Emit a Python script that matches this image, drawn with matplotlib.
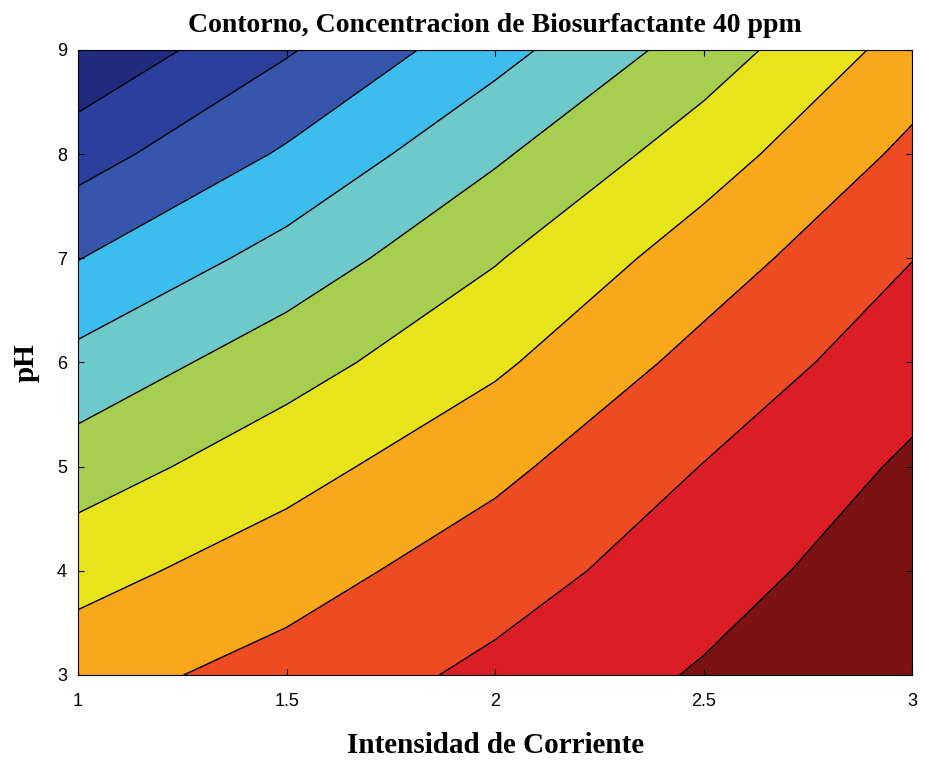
import numpy as np
import matplotlib
matplotlib.use("Agg")
import matplotlib.pyplot as plt
from matplotlib.colors import ListedColormap

# estilo tipo MATLAB
plt.rcParams.update(
    {
        "font.family": "Liberation Sans",
        "axes.linewidth": 0.8,
        "xtick.direction": "in",
        "ytick.direction": "in",
        "xtick.top": True,
        "ytick.right": True,
        "xtick.major.size": 4,
        "ytick.major.size": 4,
    }
)

# Intensidad de corriente (columnas) y pH (filas)
corriente = np.array([1.0, 1.5, 2.0, 2.5, 3.0])
ph = np.array([3, 4, 5, 6, 7, 8, 9])

# respuesta por nivel de contorno (fila = pH, columna = corriente)
z_ph3 = [7.62, 8.37, 9.23, 10.10, 10.95]
z_ph4 = [6.63, 7.56, 8.55, 9.57, 10.60]
z_ph5 = [5.49, 6.62, 7.76, 9.03, 10.16]
z_ph6 = [4.29, 5.58, 6.83, 8.32, 9.59]
z_ph7 = [2.97, 4.38, 5.93, 7.50, 8.98]
z_ph8 = [1.57, 3.13, 4.85, 6.54, 8.23]
z_ph9 = [0.14, 1.90, 3.65, 5.48, 7.42]

niveles = np.arange(0, 12)
colores = [
    "#222a80",
    "#2c3f9c",
    "#3655ad",
    "#3dbdee",
    "#6ec9cb",
    "#a6cf50",
    "#e8e41c",
    "#f8a81b",
    "#ee4b22",
    "#db1d25",
    "#7b1315",
]

if __name__ == "__main__":
    Z = np.array([z_ph3, z_ph4, z_ph5, z_ph6, z_ph7, z_ph8, z_ph9])
    X, Y = np.meshgrid(corriente, ph)

    fig = plt.figure(figsize=(9.25, 7.67), dpi=100)
    ax = fig.add_axes([0.0843, 0.120, 0.902, 0.815])

    cmap = ListedColormap(colores)
    ax.contourf(X, Y, Z, levels=niveles, cmap=cmap)
    ax.contour(X, Y, Z, levels=niveles[1:-1], colors="black", linewidths=1.0)

    ax.set_xlim(1, 3)
    ax.set_ylim(3, 9)
    ax.set_xticks([1, 1.5, 2, 2.5, 3])
    ax.set_xticklabels(["1", "1.5", "2", "2.5", "3"])
    ax.set_yticks(ph)
    ax.tick_params(axis="both", labelsize=13)
    ax.tick_params(axis="x", pad=13)
    ax.tick_params(axis="y", pad=8)

    ax.set_title(
        "Contorno, Concentracion de Biosurfactante 40 ppm",
        fontsize=20,
        fontweight="bold",
        family="Liberation Serif",
        pad=13,
    )
    ax.set_xlabel(
        "Intensidad de Corriente",
        fontsize=21,
        fontweight="bold",
        family="Liberation Serif",
        labelpad=16,
    )
    ax.set_ylabel("pH", fontsize=21, fontweight="bold", family="Liberation Serif", labelpad=12)

    plt.savefig("out.png", dpi=100)
